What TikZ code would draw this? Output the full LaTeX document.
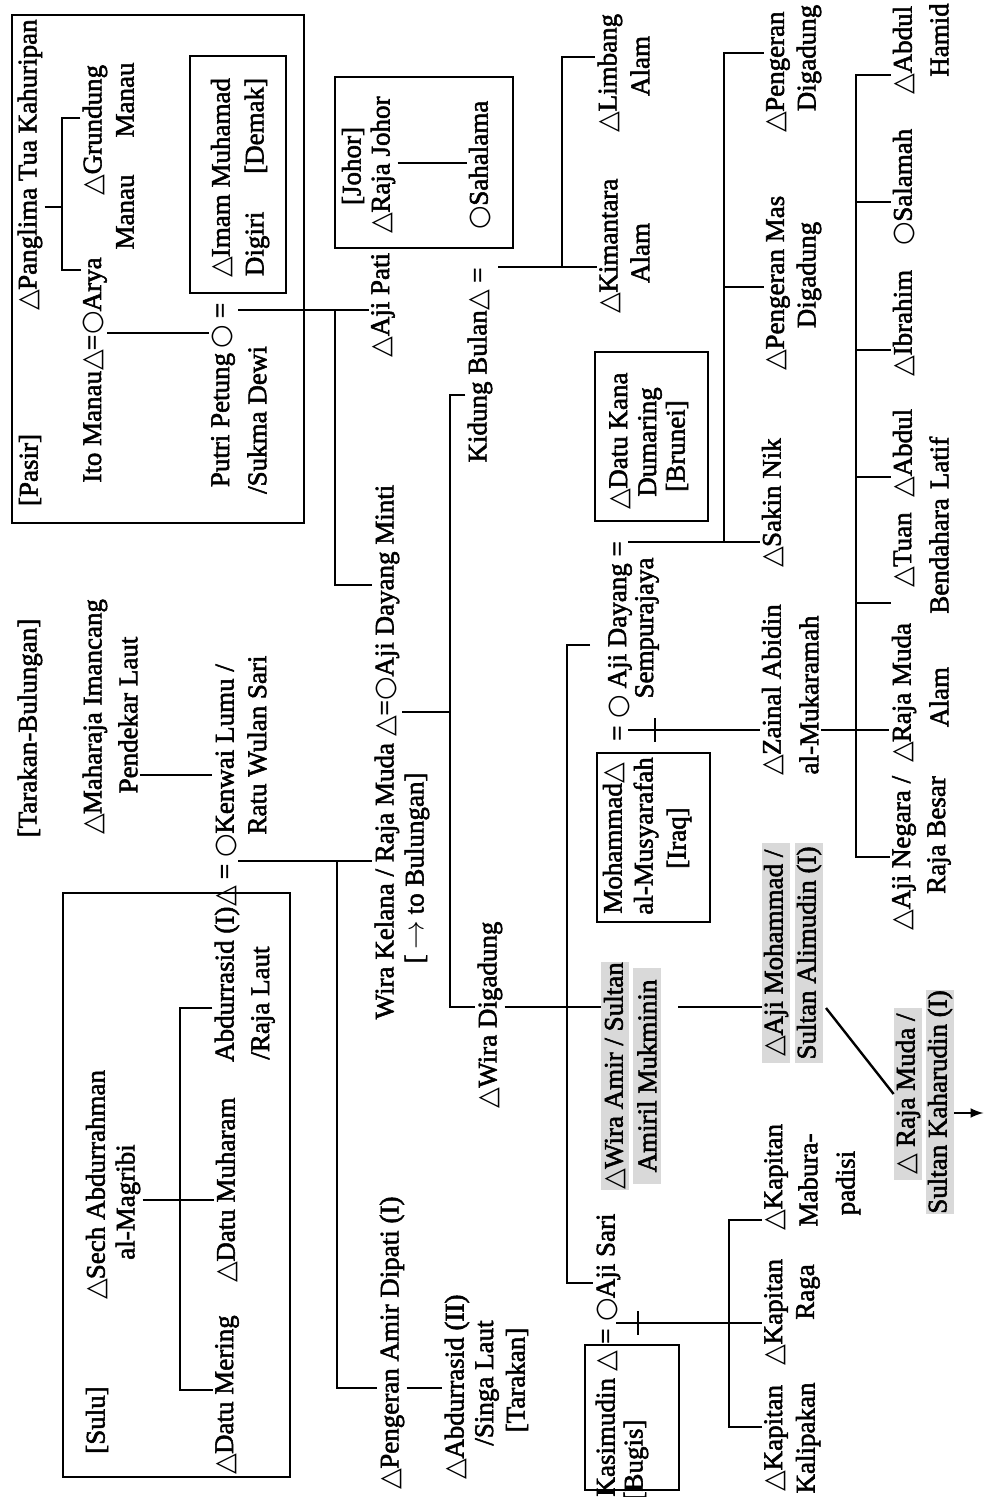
\documentclass[tikz,border=0pt]{standalone}
\usepackage{fontspec}
\setmainfont[FakeBold=2]{Liberation Serif}
\newfontfamily\symfont{DejaVu Sans}
\newcommand{\mTri}{{\symfont\char"25B3}}
\newcommand{\mCir}{{\symfont\char"25CB}}
\begin{document}
\begin{tikzpicture}[>=latex, x=.5pt, y=-.5pt,
    person/.style={rotate=90, inner sep=1pt, font=\fontsize{13.5}{15}\selectfont},
    tone/.style={person, fill=gray!30, inner sep=0pt, minimum height=14pt},
    link/.style={line width=1.2pt},
    realm/.style={line width=1.2pt}]
\useasboundingbox (0,0) rectangle (986,1497);

% Pasir
\draw[realm] (12,15) rectangle (304,523);
\draw[realm] (190,56) rectangle (286,293);
\node[person] (pasir) at (30,470) {[Pasir]};
\node[person] (panglima) at (30,165) {\mTri Panglima Tua Kahuripan};
\node[person] (itomanau) at (95,370) {Ito Manau\mTri=\mCir Arya};
\node[person] (arya) at (125,212) {Manau};
\node[person] (grundung) at (95,130) {\mTri Grundung};
\node[person] (grundung2) at (125,100) {Manau};
\node[person] (putri) at (223,395) {Putri Petung\,\mCir\ =};
\node[person] (putri2) at (257,420) {/Sukma Dewi};
\node[person] (imam) at (222,178) {\mTri Imam Muhamad};
\node[person] (imam2) at (257,177) {Digiri\hspace{1.4em}[Demak]};

% Johor
\draw[realm] (335,77) rectangle (513,248);
\node[person] (johor) at (353,166) {[Johor]};
\node[person] (rajajohor) at (383,165) {\mTri Raja Johor};
\node[person] (sahalama) at (480,165) {\mCir Sahalama};
\node[person] (ajipati) at (383,305) {\mTri Aji Pati};
\node[person] (kidung) at (480,365) {Kidung Bulan\mTri\ =};
\node[person] (kimantara) at (610,246) {\mTri Kimantara};
\node[person] (kimantara2) at (640,253) {Alam};
\node[person] (limbang) at (610,73) {\mTri Limbang};
\node[person] (limbang2) at (640,66) {Alam};

% Tarakan-Bulungan
\node[person] (tarakanbul) at (30,728) {[Tarakan-Bulungan]};
\node[person] (maharaja) at (95,717) {\mTri Maharaja Imancang};
\node[person] (maharaja2) at (128,715) {Pendekar Laut};
\node[person] (abdurrasid) at (227,863) {Abdurrasid (I)\mTri\ = \mCir Kenwai Lumu /};
\node[person] (abdurrasid2) at (263,1003) {/Raja Laut};
\node[person] (kenwai2) at (257,745) {Ratu Wulan Sari};

% Sulu
\draw[realm] (63,893) rectangle (290,1477);
\node[person] (sulu) at (97,1420) {[Sulu]};
\node[person] (sech) at (97,1185) {\mTri Sech Abdurrahman};
\node[person] (sech2) at (128,1202) {al-Magribi};
\node[person] (mering) at (227,1395) {\mTri Datu Mering};
\node[person] (muharam) at (227,1190) {\mTri Datu Muharam};

% Bulungan line
\node[person] (wirakelana) at (387,752) {Wira Kelana / Raja Muda \mTri=\mCir Aji Dayang Minti};
\node[person] (wirakelana2) at (417,868) {[\,$\rightarrow$ to Bulungan]};
\node[person] (pengeran) at (392,1343) {\mTri Pengeran Amir Dipati (I)};
\node[person] (singalaut) at (457,1387) {\mTri Abdurrasid (II)};
\node[person] (singalaut2) at (487,1383) {/Singa Laut};
\node[person] (singalaut3) at (517,1380) {[Tarakan]};
\node[person] (wiradigadung) at (490,1015) {\mTri Wira Digadung};

% Brunei, Iraq
\draw[realm] (595,352) rectangle (708,521);
\node[person] (datukana) at (620,441) {\mTri Datu Kana};
\node[person] (datukana2) at (650,442) {Dumaring};
\node[person] (datukana3) at (677,446) {[Brunei]};
\draw[realm] (597,753) rectangle (710,922);
\node[person] (mohammad) at (614,838) {Mohammad\mTri};
\node[person] (mohammad2) at (646,836) {al-Musyarafah};
\node[person] (mohammad3) at (679,838) {[Iraq]};
\node[person] (ajidayang) at (620,641) {= \mCir\ Aji Dayang =};
\node[person] (ajidayang2) at (647,628) {Sempurajaya};
\node[person] (sakin) at (773,503) {\mTri Sakin Nik};
\node[person] (pmas) at (778,283) {\mTri Pengeran Mas};
\node[person] (pmas2) at (809,275) {Digadung};
\node[person] (pdig) at (778,72) {\mTri Pengeran};
\node[person] (pdig2) at (809,58) {Digadung};
\node[person] (zainal) at (773,690) {\mTri Zainal Abidin};
\node[person] (zainal2) at (809,695) {al-Mukaramah};

% children of Zainal Abidin
\node[person] (abdulhamid) at (904,50) {\mTri Abdul};
\node[person] (abdulhamid2) at (939,40) {Hamid};
\node[person] (salamah) at (904,187) {\mCir Salamah};
\node[person] (ibrahim) at (904,323) {\mTri Ibrahim};
\node[person] (abdullatif) at (904,453) {\mTri Abdul};
\node[person] (abdullatif2) at (939,463) {Latif};
\node[person] (tuan) at (904,550) {\mTri Tuan};
\node[person] (tuan2) at (939,556) {Bendahara};
\node[person] (rajamuda) at (904,693) {\mTri Raja Muda};
\node[person] (rajamuda2) at (939,697) {Alam};
\node[person] (ajinegara) at (904,853) {\mTri Aji Negara /};
\node[person] (ajinegara2) at (939,835) {Raja Besar};

% sultans
\node[tone, minimum width=108pt] (wiraamir) at (615,1076) {\mTri Wira Amir / Sultan};
\node[tone, minimum width=108pt] (wiraamir2) at (647,1076) {Amiril Mukminin};
\node[tone, minimum width=110pt] (ajimohammad) at (776,953) {\mTri Aji Mohammad /};
\node[tone, minimum width=110pt] (ajimohammad2) at (809,953) {Sultan Alimudin (I)};
\node[tone, minimum width=86pt] (kaharudin) at (908,1094) {\mTri\ Raja Muda /};
\node[tone, minimum width=102pt] (kaharudin2) at (940,1102) {Sultan Kaharudin (I)};

% Bugis
\draw[realm] (585,1345) rectangle (679,1490);
\node[person] (kasimudin) at (608,1355) {Kasimudin \mTri\ = \mCir Aji Sari};
\node[person] (kasimudin2) at (636,1460) {[Bugis]};
\node[person] (kalipakan) at (776,1438) {\mTri Kapitan};
\node[person] (kalipakan2) at (808,1438) {Kalipakan};
\node[person] (raga) at (776,1312) {\mTri Kapitan};
\node[person] (raga2) at (808,1292) {Raga};
\node[person] (mabura) at (776,1177) {\mTri Kapitan};
\node[person] (mabura2) at (808,1180) {Mabura-};
\node[person] (mabura3) at (848,1183) {padisi};

% lines: Pasir
\coordinate (pgJ) at (62,207);
\coordinate (pgT) at (62,118);
\coordinate (pgB) at (62,270);
\draw[link] (panglima.south |- pgJ) -- (pgJ);
\draw[link] (grundung.north |- pgT) -- (pgT) -- (pgB) -- (itomanau.north |- pgB);
\coordinate (imE) at (107,333);
\draw[link] (imE) -- (putri.north |- imE);
\coordinate (ptE) at (238,310);
\coordinate (ptJ) at (335,310);
\coordinate (ptB) at (335,585);
\draw[link] (ptE) -- (ajipati.north |- ptE);
\draw[link] (ptJ) -- (ptB) -- (wirakelana.north |- ptB);

% lines: Johor
\coordinate (sh) at (0,163);
\draw[link] (rajajohor.south |- sh) -- (sahalama.north |- sh);
\coordinate (kbE) at (498,267);
\coordinate (kbJ) at (562,267);
\coordinate (kbT) at (562,57);
\draw[link] (kbE) -- (kimantara.north |- kbE);
\draw[link] (kbJ) -- (kbT) -- (limbang.north |- kbT);

% lines: Tarakan, Sulu
\coordinate (mk) at (0,775);
\draw[link] (maharaja2.south |- mk) -- (abdurrasid.north |- mk);
\coordinate (arE) at (238,861);
\coordinate (arJ) at (337,861);
\coordinate (arB) at (337,1388);
\draw[link] (arE) -- (arJ) -- (arB) -- (pengeran.north |- arB);
\draw[link] (arJ) -- (wirakelana.north |- arJ);
\coordinate (seJ) at (180,1200);
\coordinate (seT) at (180,1008);
\coordinate (seB) at (180,1390);
\draw[link] (sech2.south |- seJ) -- (muharam.north |- seJ);
\draw[link] (abdurrasid.north |- seT) -- (seT) -- (seB) -- (mering.north |- seB);

% lines: Wira Kelana and after
\coordinate (wkE) at (402,712);
\coordinate (wkJ) at (450,712);
\coordinate (wkT) at (450,395);
\coordinate (wkB) at (450,1007);
\draw[link] (wkE) -- (wkJ);
\draw[link] (kidung.north |- wkT) -- (wkT) -- (wkB) -- (wiradigadung.north |- wkB);
\coordinate (pa) at (0,1388);
\draw[link] (pengeran.south |- pa) -- (singalaut.north |- pa);
\coordinate (wdJ) at (567,1007);
\coordinate (wdT) at (567,645);
\coordinate (wdB) at (567,1283);
\coordinate (wdA) at (590,645);
\draw[link] (wiradigadung.south |- wdJ) -- (wiraamir.north |- wdJ);
\draw[link] (wdA) -- (wdT) -- (wdB) -- (kasimudin.north |- wdB);
\coordinate (waE) at (678,1007);
\draw[link] (waE) -- (ajimohammad.north |- waE);
\coordinate (amD) at (826,1008);
\draw[link] (amD) -- (kaharudin.north);
\coordinate (kh) at (0,1113);
\draw[link, ->] (kaharudin2.south |- kh) -- ++(29,0);

% lines: Iraq, Brunei
\coordinate (mdE) at (628,730);
\draw[link] (mdE) -- (zainal.north |- mdE);
\draw[link] (mdE) ++(27,-12) -- ++(0,24);
\coordinate (adE) at (628,542);
\coordinate (adJ) at (724,542);
\coordinate (adT) at (724,53);
\coordinate (adM) at (724,287);
\draw[link] (adE) -- (sakin.north |- adE);
\draw[link] (adJ) -- (adT) -- (pdig.north |- adT);
\draw[link] (adM) -- (pmas.north |- adM);

% lines: Zainal Abidin
\coordinate (zaJ) at (856,730);
\coordinate (zaT) at (856,75);
\coordinate (zaB) at (856,857);
\draw[link] (zainal2.south |- zaJ) -- (rajamuda.north |- zaJ);
\draw[link] (abdulhamid.north |- zaT) -- (zaT) -- (zaB) -- (ajinegara.north |- zaB);
\foreach \n/\y in {salamah/202, ibrahim/350, abdullatif/477, tuan/603}
    \draw[link] (zaT |- 0,\y) -- (\n.north |- 0,\y);

% lines: Bugis
\coordinate (ksE) at (616,1323);
\coordinate (ksT) at (729,1220);
\coordinate (ksB) at (729,1427);
\draw[link] (ksE) -- (raga.north |- ksE);
\draw[link] (ksE) ++(22,-12) -- ++(0,24);
\draw[link] (mabura.north |- ksT) -- (ksT) -- (ksB) -- (kalipakan.north |- ksB);

\end{tikzpicture}
\end{document}
